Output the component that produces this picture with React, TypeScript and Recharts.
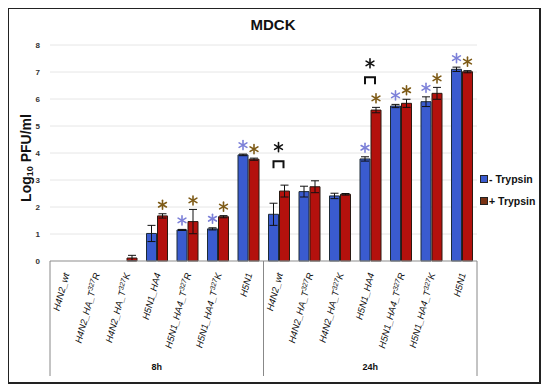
import React from "react";
import { BarChart, Bar, XAxis, YAxis, CartesianGrid, ErrorBar, LabelList } from "recharts";

// categories, "^" marks the superscript residue number
const categories = [
  "H4N2_wt", "H4N2_HA_T^327R", "H4N2_HA_T^327K", "H5N1_HA4", "H5N1_HA4_T^327R", "H5N1_HA4_T^327K", "H5N1",
  "H4N2_wt", "H4N2_HA_T^327R", "H4N2_HA_T^327K", "H5N1_HA4", "H5N1_HA4_T^327R", "H5N1_HA4_T^327K", "H5N1",
];
const timePoints = ["8h", "8h", "8h", "8h", "8h", "8h", "8h", "24h", "24h", "24h", "24h", "24h", "24h", "24h"];

const minusTrypsin = [0, 0, 0, 1.02, 1.15, 1.19, 3.93, 1.73, 2.57, 2.41, 3.78, 5.74, 5.9, 7.1];
const minusErrors = [0, 0, 0, 0.3, 0.02, 0.04, 0.03, 0.41, 0.2, 0.1, 0.08, 0.06, 0.18, 0.08];
const plusTrypsin = [0, 0, 0.11, 1.67, 1.46, 1.64, 3.77, 2.59, 2.75, 2.47, 5.59, 5.84, 6.21, 7.01];
const plusErrors = [0, 0, 0.1, 0.08, 0.45, 0.04, 0.04, 0.22, 0.22, 0.03, 0.1, 0.15, 0.22, 0.04];

// significance vs H4N2 wt (asterisk over bar) and between treatments (bracket)
const minusSig = [0, 0, 0, 0, 1, 1, 1, 0, 0, 0, 1, 1, 1, 1];
const plusSig = [0, 0, 0, 1, 1, 1, 1, 0, 0, 0, 1, 1, 1, 1];
const pairSig = [0, 0, 0, 0, 0, 0, 0, 1, 0, 0, 1, 0, 0, 0];

const yTicks = [0, 1, 2, 3, 4, 5, 6, 7, 8];

const FONT = '"Liberation Sans", Arial, sans-serif';
const BLUE = "#3a5bcf";
const RED = "#b3110d";
const BAR_SIZE = 10;
const BAR_GAP = 1;

const data = categories.map((name, i) => ({
  name,
  idx: i,
  minus: minusTrypsin[i],
  minusErr: minusErrors[i],
  plus: plusTrypsin[i],
  plusErr: plusErrors[i],
}));

function Asterisk({ cx, cy, color }: { cx: number; cy: number; color: string }) {
  const r = 4.5;
  return (
    <g stroke={color} strokeWidth={1.6} strokeLinecap="round">
      {[90, 30, 150].map((a) => {
        const rad = (a * Math.PI) / 180;
        const dx = r * Math.cos(rad);
        const dy = r * Math.sin(rad);
        return <line key={a} x1={cx - dx} y1={cy - dy} x2={cx + dx} y2={cy + dy} />;
      })}
    </g>
  );
}

// the label value is the category index (LabelList dataKey="idx")
function starLabel(sig: number[], values: number[], errs: number[], color: string) {
  return (props: any) => {
    const i = Number(props.value);
    if (!sig[i] || !values[i]) return null;
    const ppu = Number(props.height) / values[i];
    const top = Number(props.y) - errs[i] * ppu;
    return <Asterisk cx={Number(props.x) + Number(props.width) / 2} cy={top - 9} color={color} />;
  };
}

function BracketLabel(props: any) {
  const i = Number(props.value);
  if (!pairSig[i]) return null;
  const x = Number(props.x);
  const y = Number(props.y);
  const width = Number(props.width);
  const height = Number(props.height);
  const ppu = height / plusTrypsin[i];
  const base = y + height;
  const blueTop = base - (minusTrypsin[i] + minusErrors[i]) * ppu;
  const redTop = base - (plusTrypsin[i] + plusErrors[i]) * ppu;
  const hasStar = minusSig[i] || plusSig[i];
  const top = Math.min(blueTop, redTop) - (hasStar ? 30 : 24);
  const left = x - BAR_GAP - width / 2;
  const right = x + width / 2 - 1;
  return (
    <g>
      <path d={`M${left},${top + 7} V${top} H${right} V${top + 7}`} stroke="#111" strokeWidth={2} fill="none" />
      <Asterisk cx={(left + right) / 2} cy={top - 14} color="#111" />
    </g>
  );
}

function CategoryTick(props: any) {
  const { x, y, payload, index, width } = props;
  const half = payload?.offset ?? width / categories.length / 2;
  const [pre, rest] = categories[index].split("^");
  const t = timePoints[index];
  const isStart = index === 0 || timePoints[index - 1] !== t;
  const isLast = index === categories.length - 1;
  let groupEnd = index;
  while (groupEnd + 1 < timePoints.length && timePoints[groupEnd + 1] === t) groupEnd++;
  return (
    <g>
      <text
        transform={`translate(${x + 1},${y + 12}) rotate(-75)`}
        textAnchor="end"
        dy="0.35em"
        fontSize={9.5}
        fontStyle="italic"
        fill="#111"
        fontFamily={FONT}
      >
        {pre}
        {rest && (
          <>
            <tspan fontSize={7} dy={-3}>{rest.slice(0, 3)}</tspan>
            <tspan dy={3}>{rest.slice(3)}</tspan>
          </>
        )}
      </text>
      {isStart && <line x1={x - half} x2={x - half} y1={y} y2={y + 115} stroke="#888" />}
      {isLast && <line x1={x + half} x2={x + half} y1={y} y2={y + 115} stroke="#888" />}
      {isStart && (
        <text
          x={x + (groupEnd - index) * half}
          y={y + 106}
          textAnchor="middle"
          dominantBaseline="central"
          fontSize={9}
          fontWeight="bold"
          fill="#111"
          fontFamily={FONT}
        >
          {t}
        </text>
      )}
    </g>
  );
}

function YLabel() {
  return (
    <text
      transform="translate(18,150) rotate(-90)"
      textAnchor="middle"
      dominantBaseline="central"
      fontSize={14}
      fontWeight="bold"
      fill="#111"
      fontFamily={FONT}
    >
      Log<tspan fontSize={9} dy={4}>10</tspan>
      <tspan dy={-4}> PFU/ml</tspan>
    </text>
  );
}

const legendItems = [
  { label: "- Trypsin", color: BLUE },
  { label: "+ Trypsin", color: "#7a3214" },
];

export default function App() {
  return (
    <div style={{ position: "relative", width: 534, height: 376, fontFamily: FONT }}>
      <div
        style={{
          position: "absolute",
          left: -1,
          top: -1,
          width: 534,
          height: 377,
          border: "2px solid #222",
          boxSizing: "border-box",
        }}
      />
      <div
        style={{
          position: "absolute",
          left: 0,
          top: 9,
          width: 530,
          textAlign: "center",
          fontSize: 15,
          lineHeight: "16px",
          fontWeight: "bold",
          color: "#111",
        }}
      >
        MDCK
      </div>
      <BarChart
        width={534}
        height={376}
        data={data}
        barGap={BAR_GAP}
        margin={{ top: 37, right: 65, bottom: 8, left: 0 }}
        style={{ position: "absolute", left: 0, top: 0 }}
      >
        <CartesianGrid vertical={false} stroke="#e6e6e6" />
        <XAxis
          dataKey="name"
          interval={0}
          height={115}
          tickLine={false}
          tickSize={0}
          tickMargin={0}
          axisLine={{ stroke: "#999" }}
          tick={(p: any) => <CategoryTick {...p} />}
        />
        <YAxis
          width={42}
          domain={[0, 8]}
          ticks={yTicks}
          axisLine={false}
          tickLine={false}
          tickSize={0}
          tickMargin={10}
          tick={{ fontSize: 8, fontWeight: "bold", fill: "#333", fontFamily: FONT }}
          label={{ content: () => <YLabel /> }}
        />
        <Bar dataKey="minus" fill={BLUE} stroke="#1d2b36" strokeWidth={1} barSize={BAR_SIZE} isAnimationActive={false}>
          <ErrorBar dataKey="minusErr" width={4} stroke="#111" strokeWidth={1} />
          <LabelList dataKey="idx" content={starLabel(minusSig, minusTrypsin, minusErrors, "#7c80d8")} />
        </Bar>
        <Bar dataKey="plus" fill={RED} stroke="#2a1a12" strokeWidth={1} barSize={BAR_SIZE} isAnimationActive={false}>
          <ErrorBar dataKey="plusErr" width={4} stroke="#111" strokeWidth={1} />
          <LabelList dataKey="idx" content={starLabel(plusSig, plusTrypsin, plusErrors, "#7d5a16")} />
          <LabelList dataKey="idx" content={(p: any) => <BracketLabel {...p} />} />
        </Bar>
      </BarChart>
      <div style={{ position: "absolute", left: 472, top: 160 }}>
        {legendItems.map((item) => (
          <div
            key={item.label}
            style={{ display: "flex", alignItems: "center", height: 22, fontSize: 10.5, fontWeight: "bold", color: "#111" }}
          >
            <span
              style={{
                display: "inline-block",
                width: 6,
                height: 6,
                background: item.color,
                border: "1px solid #222",
                marginRight: 1,
              }}
            />
            {item.label}
          </div>
        ))}
      </div>
    </div>
  );
}
